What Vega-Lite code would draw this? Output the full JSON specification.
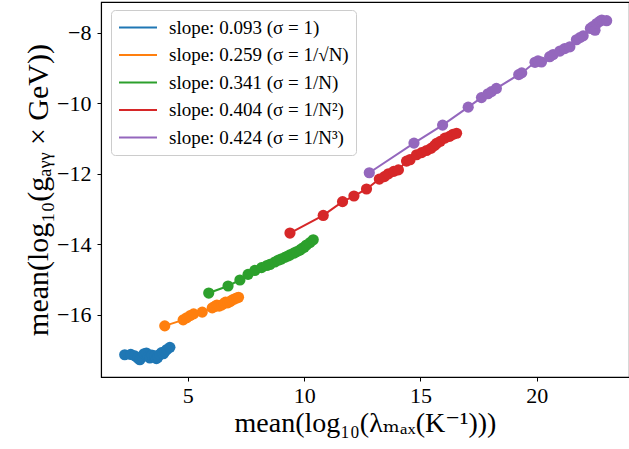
{
  "$schema": "https://vega.github.io/schema/vega-lite/v6.json",
  "autosize": "none",
  "padding": {"left": 101, "top": 2, "right": 0, "bottom": 72},
  "width": 528,
  "height": 375,
  "background": "white",
  "config": {
    "view": {"stroke": "black", "strokeWidth": 1.1},
    "font": "Liberation Serif, DejaVu Serif, serif",
    "axis": {
      "grid": false,
      "domainColor": "black",
      "domainWidth": 1.1,
      "tickColor": "black",
      "tickSize": 4,
      "tickWidth": 1,
      "labelColor": "black",
      "labelFont": "Liberation Serif, DejaVu Serif, serif",
      "labelFontSize": 22,
      "titleColor": "black",
      "titleFont": "Liberation Serif, DejaVu Serif, serif",
      "titleFontSize": 28,
      "titleFontWeight": "normal"
    },
    "legend": {
      "symbolType": "stroke"
    }
  },
  "data": {
    "values": [
      {"series": "slope: 0.093 (σ = 1)", "x": 2.29, "y": -17.13},
      {"series": "slope: 0.093 (σ = 1)", "x": 2.55, "y": -17.12},
      {"series": "slope: 0.093 (σ = 1)", "x": 2.72, "y": -17.16},
      {"series": "slope: 0.093 (σ = 1)", "x": 2.85, "y": -17.22},
      {"series": "slope: 0.093 (σ = 1)", "x": 2.94, "y": -17.27},
      {"series": "slope: 0.093 (σ = 1)", "x": 3.05, "y": -17.18},
      {"series": "slope: 0.093 (σ = 1)", "x": 3.12, "y": -17.10},
      {"series": "slope: 0.093 (σ = 1)", "x": 3.22, "y": -17.08},
      {"series": "slope: 0.093 (σ = 1)", "x": 3.30, "y": -17.18},
      {"series": "slope: 0.093 (σ = 1)", "x": 3.37, "y": -17.22},
      {"series": "slope: 0.093 (σ = 1)", "x": 3.45, "y": -17.14},
      {"series": "slope: 0.093 (σ = 1)", "x": 3.58, "y": -17.16},
      {"series": "slope: 0.093 (σ = 1)", "x": 3.65, "y": -17.24},
      {"series": "slope: 0.093 (σ = 1)", "x": 3.71, "y": -17.20},
      {"series": "slope: 0.093 (σ = 1)", "x": 3.80, "y": -17.12},
      {"series": "slope: 0.093 (σ = 1)", "x": 3.87, "y": -17.07},
      {"series": "slope: 0.093 (σ = 1)", "x": 3.95, "y": -17.10},
      {"series": "slope: 0.093 (σ = 1)", "x": 4.01, "y": -17.04},
      {"series": "slope: 0.093 (σ = 1)", "x": 4.10, "y": -16.98},
      {"series": "slope: 0.093 (σ = 1)", "x": 4.23, "y": -16.92},

      {"series": "slope: 0.259 (σ = 1/√N)", "x": 4.01, "y": -16.31},
      {"series": "slope: 0.259 (σ = 1/√N)", "x": 4.80, "y": -16.14},
      {"series": "slope: 0.259 (σ = 1/√N)", "x": 4.95, "y": -16.08},
      {"series": "slope: 0.259 (σ = 1/√N)", "x": 5.10, "y": -16.02},
      {"series": "slope: 0.259 (σ = 1/√N)", "x": 5.25, "y": -15.97},
      {"series": "slope: 0.259 (σ = 1/√N)", "x": 5.62, "y": -15.92},
      {"series": "slope: 0.259 (σ = 1/√N)", "x": 6.05, "y": -15.80},
      {"series": "slope: 0.259 (σ = 1/√N)", "x": 6.16, "y": -15.76},
      {"series": "slope: 0.259 (σ = 1/√N)", "x": 6.25, "y": -15.72},
      {"series": "slope: 0.259 (σ = 1/√N)", "x": 6.35, "y": -15.75},
      {"series": "slope: 0.259 (σ = 1/√N)", "x": 6.45, "y": -15.72},
      {"series": "slope: 0.259 (σ = 1/√N)", "x": 6.55, "y": -15.68},
      {"series": "slope: 0.259 (σ = 1/√N)", "x": 6.62, "y": -15.64},
      {"series": "slope: 0.259 (σ = 1/√N)", "x": 6.72, "y": -15.66},
      {"series": "slope: 0.259 (σ = 1/√N)", "x": 6.82, "y": -15.62},
      {"series": "slope: 0.259 (σ = 1/√N)", "x": 6.90, "y": -15.58},
      {"series": "slope: 0.259 (σ = 1/√N)", "x": 7.00, "y": -15.55},
      {"series": "slope: 0.259 (σ = 1/√N)", "x": 7.10, "y": -15.52},
      {"series": "slope: 0.259 (σ = 1/√N)", "x": 7.18, "y": -15.50},

      {"series": "slope: 0.341 (σ = 1/N)", "x": 5.90, "y": -15.38},
      {"series": "slope: 0.341 (σ = 1/N)", "x": 6.73, "y": -15.18},
      {"series": "slope: 0.341 (σ = 1/N)", "x": 7.24, "y": -15.01},
      {"series": "slope: 0.341 (σ = 1/N)", "x": 7.59, "y": -14.85},
      {"series": "slope: 0.341 (σ = 1/N)", "x": 7.88, "y": -14.74},
      {"series": "slope: 0.341 (σ = 1/N)", "x": 8.17, "y": -14.66},
      {"series": "slope: 0.341 (σ = 1/N)", "x": 8.40, "y": -14.60},
      {"series": "slope: 0.341 (σ = 1/N)", "x": 8.53, "y": -14.57},
      {"series": "slope: 0.341 (σ = 1/N)", "x": 8.74, "y": -14.50},
      {"series": "slope: 0.341 (σ = 1/N)", "x": 8.88, "y": -14.45},
      {"series": "slope: 0.341 (σ = 1/N)", "x": 9.00, "y": -14.42},
      {"series": "slope: 0.341 (σ = 1/N)", "x": 9.17, "y": -14.37},
      {"series": "slope: 0.341 (σ = 1/N)", "x": 9.30, "y": -14.33},
      {"series": "slope: 0.341 (σ = 1/N)", "x": 9.39, "y": -14.30},
      {"series": "slope: 0.341 (σ = 1/N)", "x": 9.55, "y": -14.25},
      {"series": "slope: 0.341 (σ = 1/N)", "x": 9.67, "y": -14.21},
      {"series": "slope: 0.341 (σ = 1/N)", "x": 9.80, "y": -14.17},
      {"series": "slope: 0.341 (σ = 1/N)", "x": 9.88, "y": -14.13},
      {"series": "slope: 0.341 (σ = 1/N)", "x": 10.00, "y": -14.08},
      {"series": "slope: 0.341 (σ = 1/N)", "x": 10.10, "y": -14.02},
      {"series": "slope: 0.341 (σ = 1/N)", "x": 10.25, "y": -13.95},
      {"series": "slope: 0.341 (σ = 1/N)", "x": 10.39, "y": -13.87},

      {"series": "slope: 0.404 (σ = 1/N²)", "x": 9.39, "y": -13.68},
      {"series": "slope: 0.404 (σ = 1/N²)", "x": 10.82, "y": -13.18},
      {"series": "slope: 0.404 (σ = 1/N²)", "x": 11.65, "y": -12.79},
      {"series": "slope: 0.404 (σ = 1/N²)", "x": 12.14, "y": -12.63},
      {"series": "slope: 0.404 (σ = 1/N²)", "x": 12.68, "y": -12.43},
      {"series": "slope: 0.404 (σ = 1/N²)", "x": 13.23, "y": -12.15},
      {"series": "slope: 0.404 (σ = 1/N²)", "x": 13.45, "y": -12.08},
      {"series": "slope: 0.404 (σ = 1/N²)", "x": 13.62, "y": -12.00},
      {"series": "slope: 0.404 (σ = 1/N²)", "x": 13.85, "y": -11.93},
      {"series": "slope: 0.404 (σ = 1/N²)", "x": 14.05, "y": -11.89},
      {"series": "slope: 0.404 (σ = 1/N²)", "x": 14.40, "y": -11.64},
      {"series": "slope: 0.404 (σ = 1/N²)", "x": 14.55, "y": -11.60},
      {"series": "slope: 0.404 (σ = 1/N²)", "x": 14.83, "y": -11.46},
      {"series": "slope: 0.404 (σ = 1/N²)", "x": 15.05, "y": -11.40},
      {"series": "slope: 0.404 (σ = 1/N²)", "x": 15.26, "y": -11.34},
      {"series": "slope: 0.404 (σ = 1/N²)", "x": 15.45, "y": -11.28},
      {"series": "slope: 0.404 (σ = 1/N²)", "x": 15.60, "y": -11.20},
      {"series": "slope: 0.404 (σ = 1/N²)", "x": 15.69, "y": -11.14},
      {"series": "slope: 0.404 (σ = 1/N²)", "x": 15.85, "y": -11.08},
      {"series": "slope: 0.404 (σ = 1/N²)", "x": 16.05, "y": -10.99},
      {"series": "slope: 0.404 (σ = 1/N²)", "x": 16.25, "y": -10.94},
      {"series": "slope: 0.404 (σ = 1/N²)", "x": 16.40, "y": -10.88},
      {"series": "slope: 0.404 (σ = 1/N²)", "x": 16.55, "y": -10.85},

      {"series": "slope: 0.424 (σ = 1/N³)", "x": 12.80, "y": -11.97},
      {"series": "slope: 0.424 (σ = 1/N³)", "x": 14.72, "y": -11.13},
      {"series": "slope: 0.424 (σ = 1/N³)", "x": 15.95, "y": -10.62},
      {"series": "slope: 0.424 (σ = 1/N³)", "x": 17.05, "y": -10.11},
      {"series": "slope: 0.424 (σ = 1/N³)", "x": 17.62, "y": -9.84},
      {"series": "slope: 0.424 (σ = 1/N³)", "x": 17.90, "y": -9.73},
      {"series": "slope: 0.424 (σ = 1/N³)", "x": 18.05, "y": -9.67},
      {"series": "slope: 0.424 (σ = 1/N³)", "x": 18.26, "y": -9.58},
      {"series": "slope: 0.424 (σ = 1/N³)", "x": 19.22, "y": -9.19},
      {"series": "slope: 0.424 (σ = 1/N³)", "x": 19.35, "y": -9.14},
      {"series": "slope: 0.424 (σ = 1/N³)", "x": 19.92, "y": -8.84},
      {"series": "slope: 0.424 (σ = 1/N³)", "x": 20.05, "y": -8.80},
      {"series": "slope: 0.424 (σ = 1/N³)", "x": 20.20, "y": -8.83},
      {"series": "slope: 0.424 (σ = 1/N³)", "x": 20.55, "y": -8.68},
      {"series": "slope: 0.424 (σ = 1/N³)", "x": 20.70, "y": -8.62},
      {"series": "slope: 0.424 (σ = 1/N³)", "x": 20.99, "y": -8.52},
      {"series": "slope: 0.424 (σ = 1/N³)", "x": 21.20, "y": -8.45},
      {"series": "slope: 0.424 (σ = 1/N³)", "x": 21.42, "y": -8.40},
      {"series": "slope: 0.424 (σ = 1/N³)", "x": 21.70, "y": -8.20},
      {"series": "slope: 0.424 (σ = 1/N³)", "x": 21.85, "y": -8.14},
      {"series": "slope: 0.424 (σ = 1/N³)", "x": 21.99, "y": -8.09},
      {"series": "slope: 0.424 (σ = 1/N³)", "x": 22.30, "y": -7.88},
      {"series": "slope: 0.424 (σ = 1/N³)", "x": 22.40, "y": -7.83},
      {"series": "slope: 0.424 (σ = 1/N³)", "x": 22.50, "y": -7.93},
      {"series": "slope: 0.424 (σ = 1/N³)", "x": 22.57, "y": -7.74},
      {"series": "slope: 0.424 (σ = 1/N³)", "x": 22.70, "y": -7.68},
      {"series": "slope: 0.424 (σ = 1/N³)", "x": 22.79, "y": -7.64},
      {"series": "slope: 0.424 (σ = 1/N³)", "x": 23.00, "y": -7.66}
    ]
  },
  "encoding": {
    "x": {
      "field": "x",
      "type": "quantitative",
      "scale": {"domain": [1.27, 23.96], "nice": false, "zero": false},
      "axis": {
        "values": [5, 10, 15, 20],
        "title": "mean(log₁₀(λₘₐₓ(K⁻¹)))",
        "labelPadding": 4,
        "titlePadding": 3
      }
    },
    "y": {
      "field": "y",
      "type": "quantitative",
      "scale": {"domain": [-17.76, -7.13], "nice": false, "zero": false},
      "axis": {
        "values": [-16, -14, -12, -10, -8],
        "title": "mean(log₁₀(gₐᵧᵧ × GeV))",
        "titleFontSize": 30,
        "labelPadding": 6,
        "titlePadding": 3
      }
    },
    "color": {
      "field": "series",
      "type": "nominal",
      "scale": {
        "domain": [
          "slope: 0.093 (σ = 1)",
          "slope: 0.259 (σ = 1/√N)",
          "slope: 0.341 (σ = 1/N)",
          "slope: 0.404 (σ = 1/N²)",
          "slope: 0.424 (σ = 1/N³)"
        ],
        "range": ["#1f77b4", "#ff7f0e", "#2ca02c", "#d62728", "#9467bd"]
      },
      "legend": {
        "orient": "none",
        "legendX": 10,
        "legendY": 8,
        "title": null,
        "symbolType": "M-1,0H3",
        "symbolSize": 361,
        "symbolStrokeWidth": 2,
        "symbolFillColor": "transparent",
        "labelFontSize": 19,
        "labelLimit": 400,
        "labelFont": "Liberation Serif, DejaVu Serif, serif",
        "labelColor": "black",
        "labelOffset": 30,
        "rowPadding": 6.5,
        "padding": 7,
        "fillColor": "white",
        "strokeColor": "#cccccc",
        "cornerRadius": 4
      }
    }
  },
  "layer": [
    {
      "mark": {"type": "line", "strokeWidth": 2, "clip": true}
    },
    {
      "mark": {"type": "point", "filled": true, "opacity": 1, "size": 125, "clip": true}
    }
  ]
}
